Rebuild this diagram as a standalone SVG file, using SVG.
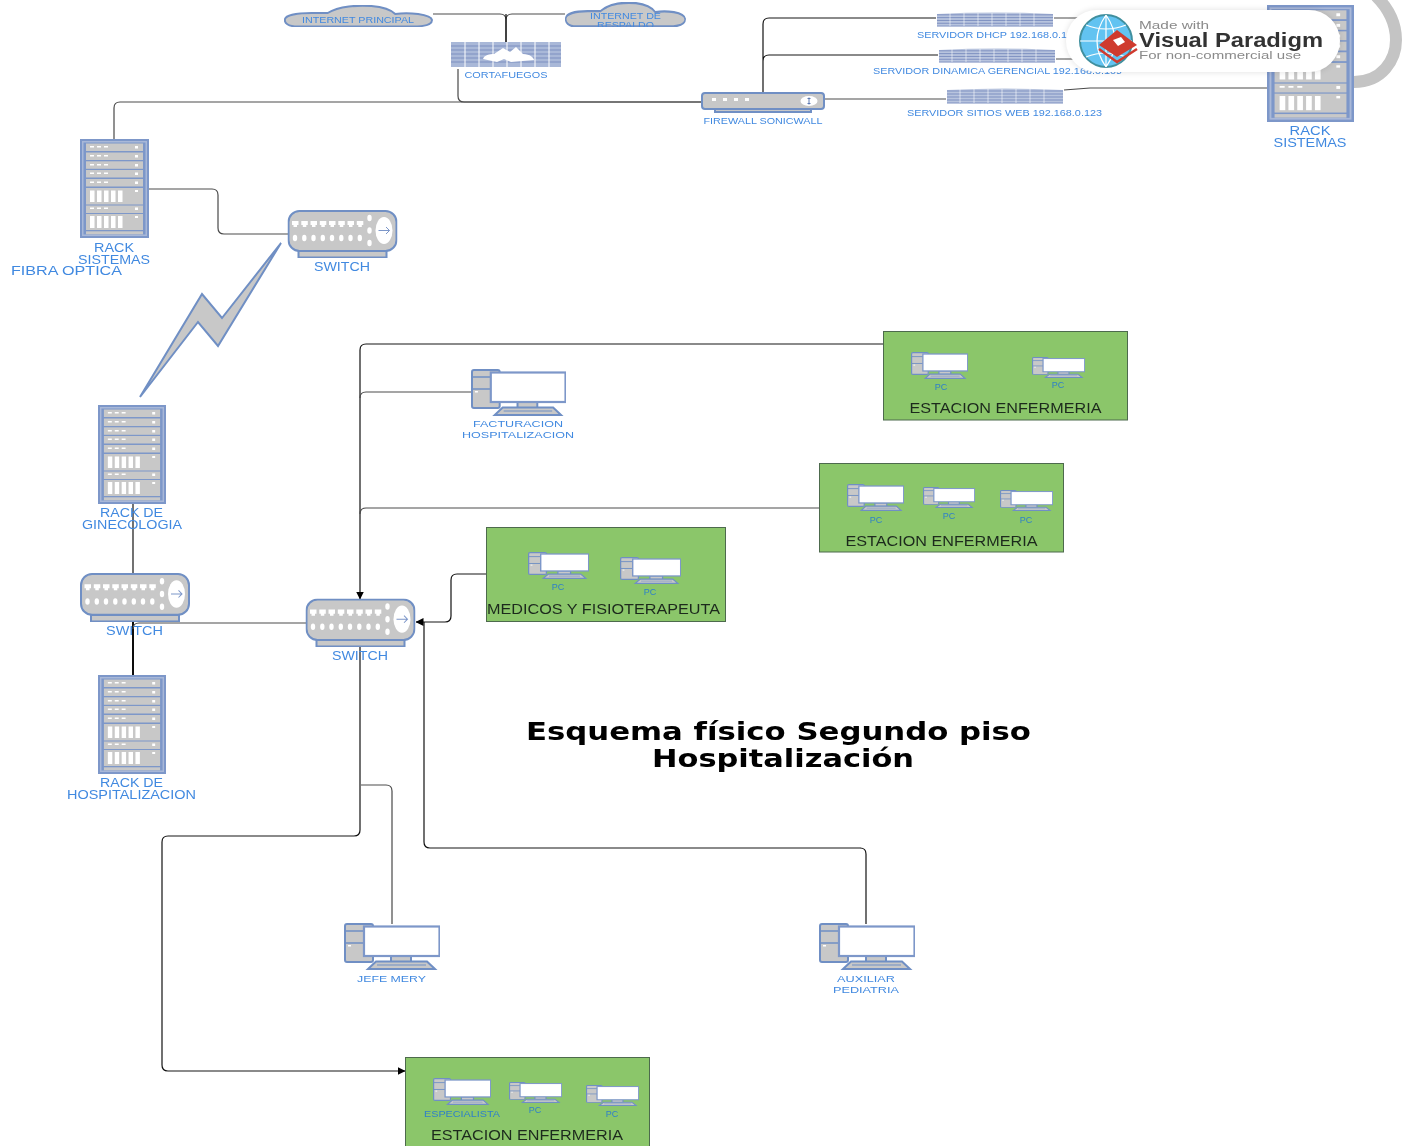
<svg xmlns="http://www.w3.org/2000/svg" width="1408" height="1146" viewBox="0 0 1408 1146">
<style>
.g{fill:#c8c8c8;stroke:#6f8fc4;stroke-width:2}
.b{fill:#7d97c9}
.w{fill:#fff}
.c{fill:none;stroke:#4a4a4a;stroke-width:1.2}
.k{fill:none;stroke:#111;stroke-width:1.2}
.k2{fill:none;stroke:#111;stroke-width:2}
text{font-family:"Liberation Sans",Arial,sans-serif}
.l{fill:#4189e0;font-size:12px;text-anchor:middle}
.s{fill:#4189e0;font-size:9.500px;text-anchor:middle}
.s9{fill:#4189e0;font-size:8.500px;text-anchor:middle}
.p{fill:#2f80c8;font-size:9px;text-anchor:middle}
.t{fill:#1d2a1d;font-size:14px;text-anchor:middle}
.h{fill:#000;font-family:"DejaVu Sans",sans-serif;font-weight:bold;font-size:24px;text-anchor:middle}
</style>
<defs>
<filter id="soft" filterUnits="userSpaceOnUse" x="0" y="0" width="1408" height="1146"><feGaussianBlur stdDeviation="0.35"/></filter>
<filter id="glow" filterUnits="userSpaceOnUse" x="1040" y="0" width="330" height="90"><feGaussianBlur stdDeviation="3"/></filter>
<clipPath id="cloudclip"><rect x="560" y="0" width="130" height="27"/></clipPath>
<marker id="arrow" viewBox="0 0 8 8" refX="7.500" refY="4" markerWidth="8" markerHeight="8" markerUnits="userSpaceOnUse" orient="auto"><path d="M0,0L8,4L0,8Z" fill="#000"/></marker>
<symbol id="rack" viewBox="0 0 69 99" preserveAspectRatio="none">
<rect x="0" y="0" width="69" height="99" class="b"/>
<rect x="2" y="2" width="65" height="95" fill="#a9b8d8"/>
<rect x="3.500" y="3.500" width="62" height="92" class="b"/>
<g fill="#c8c8c8"><rect x="6" y="4.500" width="57" height="7.500"/><rect x="6" y="13.500" width="57" height="7.500"/><rect x="6" y="22.300" width="57" height="7.500"/><rect x="6" y="31" width="57" height="7.500"/><rect x="6" y="40" width="57" height="7.500"/><rect x="6" y="49" width="57" height="16.500"/><rect x="6" y="66.500" width="57" height="7.500"/><rect x="6" y="75" width="57" height="16"/><rect x="6" y="92.300" width="57" height="3"/></g>
<g class="w"><rect x="10" y="7" width="4" height="1.500"/><rect x="17" y="7" width="4" height="1.500"/><rect x="24" y="7" width="4" height="1.500"/><rect x="55" y="7" width="3" height="2.500"/><rect x="10" y="16" width="4" height="1.500"/><rect x="17" y="16" width="4" height="1.500"/><rect x="24" y="16" width="4" height="1.500"/><rect x="55" y="16" width="3" height="2.500"/><rect x="10" y="25" width="4" height="1.500"/><rect x="17" y="25" width="4" height="1.500"/><rect x="24" y="25" width="4" height="1.500"/><rect x="55" y="25" width="3" height="2.500"/><rect x="10" y="33.500" width="4" height="1.500"/><rect x="17" y="33.500" width="4" height="1.500"/><rect x="24" y="33.500" width="4" height="1.500"/><rect x="55" y="33.500" width="3" height="2.500"/><rect x="10" y="42.500" width="4" height="1.500"/><rect x="17" y="42.500" width="4" height="1.500"/><rect x="24" y="42.500" width="4" height="1.500"/><rect x="55" y="42.500" width="3" height="2.500"/><rect x="10" y="51.500" width="4.500" height="11.500"/><rect x="17" y="51.500" width="4.500" height="11.500"/><rect x="24" y="51.500" width="4.500" height="11.500"/><rect x="31" y="51.500" width="4.500" height="11.500"/><rect x="38" y="51.500" width="4.500" height="11.500"/><rect x="55" y="51" width="3" height="2"/><rect x="10" y="68.500" width="4" height="1.500"/><rect x="17" y="68.500" width="4" height="1.500"/><rect x="24" y="68.500" width="4" height="1.500"/><rect x="55" y="68.500" width="3" height="2.500"/><rect x="10" y="77" width="4.500" height="12"/><rect x="17" y="77" width="4.500" height="12"/><rect x="24" y="77" width="4.500" height="12"/><rect x="31" y="77" width="4.500" height="12"/><rect x="38" y="77" width="4.500" height="12"/><rect x="55" y="77" width="3" height="2"/></g>
</symbol>
<symbol id="switch" viewBox="0 0 110 48" preserveAspectRatio="none">
<rect x="11" y="38" width="88" height="9.500" class="g"/>
<rect x="1" y="1" width="108" height="40" rx="11" class="g"/>
<g class="w"><path d="M4.500,11h6.500v4h-1.500v2h-3.500v-2h-1.500z"/><path d="M13.800,11h6.500v4h-1.500v2h-3.500v-2h-1.500z"/><path d="M23,11h6.500v4h-1.500v2h-3.500v-2h-1.500z"/><path d="M32.300,11h6.500v4h-1.500v2h-3.500v-2h-1.500z"/><path d="M41.500,11h6.500v4h-1.500v2h-3.500v-2h-1.500z"/><path d="M50.800,11h6.500v4h-1.500v2h-3.500v-2h-1.500z"/><path d="M60,11h6.500v4h-1.500v2h-3.500v-2h-1.500z"/><path d="M69.300,11h6.500v4h-1.500v2h-3.500v-2h-1.500z"/>
<ellipse cx="7.500" cy="28" rx="2.200" ry="3.200"/><ellipse cx="16.800" cy="28" rx="2.200" ry="3.200"/><ellipse cx="26" cy="28" rx="2.200" ry="3.200"/><ellipse cx="35.300" cy="28" rx="2.200" ry="3.200"/><ellipse cx="44.500" cy="28" rx="2.200" ry="3.200"/><ellipse cx="53.800" cy="28" rx="2.200" ry="3.200"/><ellipse cx="63" cy="28" rx="2.200" ry="3.200"/><ellipse cx="72.300" cy="28" rx="2.200" ry="3.200"/>
<ellipse cx="82" cy="8" rx="2.200" ry="3.200"/><ellipse cx="82" cy="20.500" rx="2.200" ry="3.200"/><ellipse cx="82" cy="33" rx="2.200" ry="3.200"/>
<ellipse cx="96.500" cy="20.500" rx="8.500" ry="13.500"/></g>
<path d="M91,20.500H102M98.500,17L102,20.500L98.500,24" fill="none" stroke="#7d97c9" stroke-width="1"/>
</symbol>
<symbol id="pc" viewBox="0 0 96 47" preserveAspectRatio="none">
<rect x="1" y="1" width="28" height="38" rx="2" class="g"/>
<path d="M1,8H29M1,20H29" stroke="#6f8fc4" stroke-width="1.500" fill="none"/>
<rect x="4" y="22" width="3" height="1.500" class="w"/>
<rect x="47" y="33" width="20" height="6" class="g" stroke-width="1"/>
<path d="M32,38.500H83L91,46H24Z" class="g" stroke-width="1"/>
<path d="M33,42H82" stroke="#6f8fc4" stroke-width="1"/>
<rect x="20" y="3.500" width="75.500" height="29.500" fill="#fff" stroke="#7d97c9" stroke-width="2.200"/>
</symbol>
<symbol id="server" viewBox="0 0 118 16" preserveAspectRatio="none">
<path d="M1,2Q59,-1 117,2V15H1Z" fill="#b8c4de"/>
<path d="M1,3H117M1,6H117M1,9H117M1,12H117M1,15H117" stroke="#7d8fc0" stroke-width="1" fill="none"/>
<path d="M14,1V15M28,1V15M42,1V15M56,1V15M70,1V15M84,1V15M98,1V15" stroke="#fff" stroke-width="1" stroke-opacity=".6" fill="none"/>
</symbol>
<symbol id="cloud" viewBox="0 0 150 22" preserveAspectRatio="none">
<path d="M14,21.500C4,21.500 0,18 1,14C2,10 14,8 28,8C34,8 40,8 44,8C55,1 75,0 88,1C100,2 108,5 112,9C125,7 148,9 149,15C149,20 140,21.500 130,21.500Z" class="g" stroke-width="1.300"/>
</symbol>
</defs>
<rect width="1408" height="1146" fill="#fff"/>
<g filter="url(#soft)">
<g id="connectors">
<path class="c" d="M433,14H500Q506,14 506,20V42M565,14H512Q506,14 506,20"/>
<path class="k" d="M506,14V42"/>
<path class="c" d="M458,69V96Q458,102 464,102H702"/>
<path class="c" d="M114,140V108Q114,102 120,102H702"/>
<path class="k" d="M763,93V24Q763,18 769,18H936M763,61Q763,55 769,55H938"/>
<path class="c" d="M825,99H946"/>
<path class="c" d="M1054,18H1090M1056,59H1090M1064,90L1090,88H1267"/>
<path class="c" d="M148,189H212Q218,189 218,195V228Q218,234 224,234H288"/>
<path class="k" d="M133,503V573"/>
<path class="k2" d="M133,622V675"/>
<path class="c" d="M306,623H139Q133,623 133,629"/>
<path class="k" d="M883,344H366Q360,344 360,350V599" marker-end="url(#arrow)"/>
<path class="c" d="M471,392H366Q360,392 360,398"/>
<path class="c" d="M819,508H366Q360,508 360,514"/>
<path class="k" d="M486,574H457Q451,574 451,580V616Q451,622 445,622H416" marker-end="url(#arrow)"/>
<path class="k" d="M360,647V830Q360,836 354,836H168Q162,836 162,842V1065Q162,1071 168,1071H405" marker-end="url(#arrow)"/>
<path class="c" d="M361,785H386Q392,785 392,791V924"/>
<path class="k" d="M866,924V854Q866,848 860,848H430Q424,848 424,842V622"/>
</g>
<g id="lightning"><path d="M281,243L222,318L202,294L140,397L198,322L218,346Z" class="g" stroke-width="1.500"/></g>
<g id="cloud-principal"><use href="#cloud" x="284" y="5" width="149" height="22"/><text class="s" x="358" y="23" textLength="112" lengthAdjust="spacingAndGlyphs">INTERNET PRINCIPAL</text></g>
<g id="cloud-respaldo"><use href="#cloud" x="565" y="2" width="121" height="25"/><g clip-path="url(#cloudclip)"><text class="s9" x="625.500" y="18.500" textLength="71" lengthAdjust="spacingAndGlyphs">INTERNET DE</text><text class="s9" x="625.500" y="28" textLength="57" lengthAdjust="spacingAndGlyphs">RESPALDO</text></g></g>
<g id="cortafuegos">
<rect x="451" y="42" width="110" height="25" fill="#a9b8d8"/>
<path d="M451,46H561M451,50H561M451,54H561M451,58H561M451,62H561" stroke="#7d8fc0" stroke-width="1"/>
<path d="M465,42V67M479,42V67M493,42V67M507,42V67M521,42V67M535,42V67M549,42V67" stroke="#fff" stroke-width="1"/>
<path d="M483,59C484,55 490,54 494,54L503,48L510,52L516,47L523,54C530,54 534,58 534,60L511,62L504,59L497,62Z" fill="#fff"/>
<text class="s" x="506" y="78" textLength="83" lengthAdjust="spacingAndGlyphs">CORTAFUEGOS</text>
</g>
<g id="firewall">
<rect x="715" y="106" width="96" height="6" class="g" stroke-width="1"/>
<rect x="702" y="93" width="122" height="16" rx="3" class="g" stroke-width="1.500"/>
<g class="w"><rect x="712" y="98" width="4" height="3"/><rect x="723" y="98" width="4" height="3"/><rect x="734" y="98" width="4" height="3"/><rect x="745" y="98" width="4" height="3"/><ellipse cx="809" cy="101" rx="8.500" ry="5"/></g>
<path d="M809,97.500V104.500M807.500,98.500H810.500M807.500,103.500H810.500" stroke="#5c78b0" stroke-width="1"/>
<text class="s" x="763" y="124" textLength="119" lengthAdjust="spacingAndGlyphs">FIREWALL SONICWALL</text>
</g>
<g id="server-dhcp"><use href="#server" x="936" y="12" width="118" height="15"/><text class="s" x="992" y="38" textLength="150" lengthAdjust="spacingAndGlyphs">SERVIDOR DHCP 192.168.0.1</text></g>
<g id="server-dinamica"><use href="#server" x="938" y="48" width="118" height="15"/><text class="s" x="997.500" y="74" textLength="249" lengthAdjust="spacingAndGlyphs">SERVIDOR DINAMICA GERENCIAL 192.168.0.109</text></g>
<g id="server-web"><use href="#server" x="946" y="88" width="118" height="16"/><text class="s" x="1004.500" y="116" textLength="195" lengthAdjust="spacingAndGlyphs">SERVIDOR SITIOS WEB 192.168.0.123</text></g>
<g id="rack-sistemas-top"><use href="#rack" x="1267" y="5" width="87" height="117"/><text class="l" x="1310" y="135" textLength="41" lengthAdjust="spacingAndGlyphs">RACK</text><text class="l" x="1310" y="147" textLength="73" lengthAdjust="spacingAndGlyphs">SISTEMAS</text></g>
<g id="rack-sistemas"><use href="#rack" x="80" y="139" width="69" height="99"/><text class="l" x="114" y="252" textLength="40" lengthAdjust="spacingAndGlyphs">RACK</text><text class="l" x="114" y="264" textLength="72" lengthAdjust="spacingAndGlyphs">SISTEMAS</text></g>
<g id="fibra-optica"><text class="l" x="66.500" y="275" textLength="111" lengthAdjust="spacingAndGlyphs" style="font-size:13px">FIBRA OPTICA</text></g>
<g id="switch-top"><use href="#switch" x="287.500" y="210" width="110" height="48"/><text class="l" x="342" y="271" textLength="56" lengthAdjust="spacingAndGlyphs">SWITCH</text></g>
<g id="rack-ginecologia"><use href="#rack" x="98" y="405" width="68" height="99"/><text class="l" x="131.500" y="517" textLength="63" lengthAdjust="spacingAndGlyphs">RACK DE</text><text class="l" x="132" y="529" textLength="100" lengthAdjust="spacingAndGlyphs">GINECOLOGIA</text></g>
<g id="switch-left"><use href="#switch" x="80" y="573" width="110" height="49"/><text class="l" x="134.500" y="635" textLength="57" lengthAdjust="spacingAndGlyphs">SWITCH</text></g>
<g id="switch-center"><use href="#switch" x="305.500" y="598.500" width="110" height="48.500"/><text class="l" x="360" y="660" textLength="56" lengthAdjust="spacingAndGlyphs">SWITCH</text></g>
<g id="rack-hospitalizacion"><use href="#rack" x="98" y="675" width="68" height="99"/><text class="l" x="131.500" y="787" textLength="63" lengthAdjust="spacingAndGlyphs">RACK DE</text><text class="l" x="131.500" y="799" textLength="129" lengthAdjust="spacingAndGlyphs">HOSPITALIZACION</text></g>
<g id="pc-facturacion"><use href="#pc" x="471" y="369" width="95" height="47"/><text class="s" x="518" y="427" textLength="90" lengthAdjust="spacingAndGlyphs">FACTURACION</text><text class="s" x="518" y="438" textLength="112" lengthAdjust="spacingAndGlyphs">HOSPITALIZACION</text></g>
<g id="pc-jefe"><use href="#pc" x="344" y="923" width="96" height="47"/><text class="s" x="391.500" y="982" textLength="69" lengthAdjust="spacingAndGlyphs">JEFE MERY</text></g>
<g id="pc-auxiliar"><use href="#pc" x="819" y="923" width="96" height="47"/><text class="s" x="866" y="982" textLength="58" lengthAdjust="spacingAndGlyphs">AUXILIAR</text><text class="s" x="866" y="993" textLength="66" lengthAdjust="spacingAndGlyphs">PEDIATRIA</text></g>
<g id="estacion-1">
<rect x="883.500" y="331.500" width="244" height="88.500" fill="#8bc66b" stroke="#4d6b4d"/>
<use href="#pc" x="911" y="352" width="57" height="27"/><text class="p" x="941" y="390">PC</text>
<use href="#pc" x="1032" y="357" width="53" height="21"/><text class="p" x="1058" y="388">PC</text>
<text class="t" x="1005.500" y="413" textLength="192" lengthAdjust="spacingAndGlyphs">ESTACION ENFERMERIA</text>
</g>
<g id="estacion-2">
<rect x="819.500" y="463.500" width="244" height="88.500" fill="#8bc66b" stroke="#4d6b4d"/>
<use href="#pc" x="847" y="484" width="57" height="27"/><text class="p" x="876" y="523">PC</text>
<use href="#pc" x="923" y="487" width="52" height="21"/><text class="p" x="949" y="519">PC</text>
<use href="#pc" x="1000" y="490" width="53" height="21"/><text class="p" x="1026" y="523">PC</text>
<text class="t" x="941.500" y="546" textLength="192" lengthAdjust="spacingAndGlyphs">ESTACION ENFERMERIA</text>
</g>
<g id="medicos">
<rect x="486.500" y="527.500" width="239" height="94" fill="#8bc66b" stroke="#4d6b4d"/>
<use href="#pc" x="528" y="552" width="61" height="27"/><text class="p" x="558" y="590">PC</text>
<use href="#pc" x="620" y="557" width="61" height="27"/><text class="p" x="650" y="595">PC</text>
<text class="t" x="603.500" y="614" textLength="233" lengthAdjust="spacingAndGlyphs">MEDICOS Y FISIOTERAPEUTA</text>
</g>
<g id="estacion-3">
<rect x="405.500" y="1057.500" width="244" height="92" fill="#8bc66b" stroke="#4d6b4d"/>
<use href="#pc" x="433" y="1078" width="58" height="27"/><text class="p" x="462" y="1117" textLength="76" lengthAdjust="spacingAndGlyphs">ESPECIALISTA</text>
<use href="#pc" x="509" y="1082" width="53" height="21"/><text class="p" x="535" y="1113">PC</text>
<use href="#pc" x="586" y="1085" width="53" height="21"/><text class="p" x="612" y="1117">PC</text>
<text class="t" x="527" y="1140" textLength="192" lengthAdjust="spacingAndGlyphs">ESTACION ENFERMERIA</text>
</g>
<g id="titulo"><text class="h" x="778.500" y="740" textLength="505" lengthAdjust="spacingAndGlyphs">Esquema físico Segundo piso</text><text class="h" x="783" y="767" textLength="262" lengthAdjust="spacingAndGlyphs">Hospitalización</text></g>
<g id="watermark">
<path d="M1354,82C1382,82 1396,60 1396,40C1396,22 1388,8 1376,-4" fill="none" stroke="#c4c4c4" stroke-width="12"/>
<rect x="1066" y="10" width="274" height="62" rx="31" fill="#000" opacity=".12" filter="url(#glow)"/>
<rect x="1066" y="10" width="274" height="62" rx="31" fill="#fff"/>
<circle cx="1106" cy="41" r="26" fill="#62c3f1" stroke="#3f8f9e" stroke-width="2"/>
<path d="M1080,41H1132M1106,15V67M1086,25Q1106,33 1126,25M1086,57Q1106,49 1126,57M1106,15Q1088,41 1106,67M1106,15Q1124,41 1106,67" fill="none" stroke="#fff" stroke-width="1.200"/>
<path d="M1117,30L1137,45L1117,57L1099,45Z" fill="#cf3a2f"/>
<path d="M1099,49L1117,62L1137,49" fill="none" stroke="#cf3a2f" stroke-width="2.500"/>
<path d="M1113,40L1121,37L1125,42L1118,46Z" fill="#fff"/>
<text x="1139" y="29" font-size="10.500" fill="#8a8a8a" textLength="70" lengthAdjust="spacingAndGlyphs">Made with</text>
<text x="1139" y="47" font-size="20" font-weight="bold" fill="#333" textLength="184" lengthAdjust="spacingAndGlyphs">Visual Paradigm</text>
<text x="1139" y="59" font-size="10" fill="#8a8a8a" textLength="162" lengthAdjust="spacingAndGlyphs">For non-commercial use</text>
</g>
</g>
</svg>
